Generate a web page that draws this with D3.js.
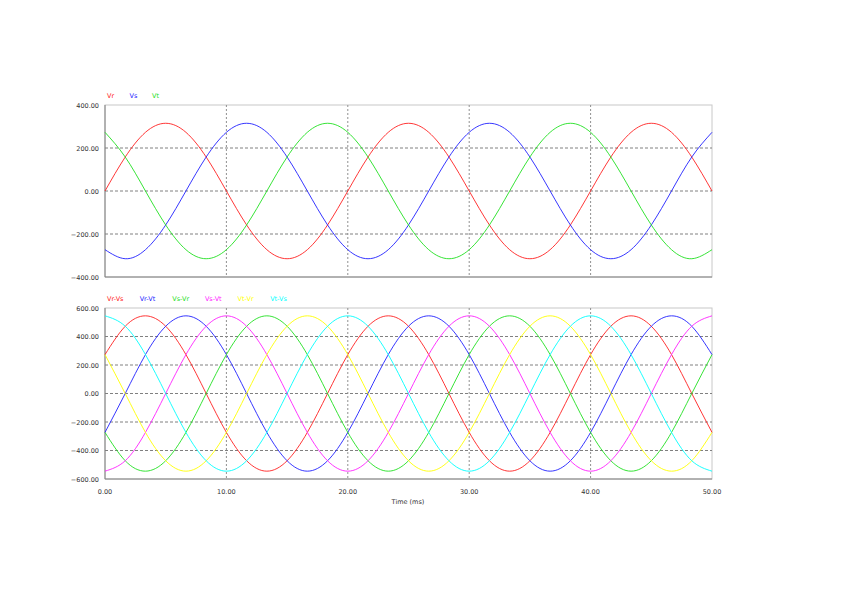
<!DOCTYPE html>
<html>
<head>
<meta charset="utf-8">
<script src="https://d3js.org/d3.v7.min.js"></script>
<style>body{margin:0;background:#fff}text{font-family:"DejaVu Sans",sans-serif}</style>
</head>
<body>
<script>
// time samples (ms), every 30 degrees of a 50 Hz cycle
const time = d3.range(31).map(k => k * 50 / 30);
const xTicks = [0, 10, 20, 30, 40, 50];
const topTicks = [-400, -200, 0, 200, 400];
const botTicks = [-600, -400, -200, 0, 200, 400, 600];

// phase voltages
const vr = [0,158,273,315,273,158,0,-158,-273,-315,-273,-158, 0,158,273,315,273,158,0,-158,-273,-315,-273,-158, 0,158,273,315,273,158,0];
const vs = [-273,-315,-273,-158,0,158,273,315,273,158,0,-158, -273,-315,-273,-158,0,158,273,315,273,158,0,-158, -273,-315,-273,-158,0,158,273];
const vt = [273,158,0,-158,-273,-315,-273,-158,0,158,273,315, 273,158,0,-158,-273,-315,-273,-158,0,158,273,315, 273,158,0,-158,-273,-315,-273];

// line voltages
const vrvs = [273,472,545,472,273,0,-273,-472,-545,-472,-273,0, 273,472,545,472,273,0,-273,-472,-545,-472,-273,0, 273,472,545,472,273,0,-273];
const vrvt = [-273,0,273,472,545,472,273,0,-273,-472,-545,-472, -273,0,273,472,545,472,273,0,-273,-472,-545,-472, -273,0,273,472,545,472,273];
const vsvr = [-273,-472,-545,-472,-273,0,273,472,545,472,273,0, -273,-472,-545,-472,-273,0,273,472,545,472,273,0, -273,-472,-545,-472,-273,0,273];
const vsvt = [-545,-472,-273,0,273,472,545,472,273,0,-273,-472, -545,-472,-273,0,273,472,545,472,273,0,-273,-472, -545,-472,-273,0,273,472,545];
const vtvr = [273,0,-273,-472,-545,-472,-273,0,273,472,545,472, 273,0,-273,-472,-545,-472,-273,0,273,472,545,472, 273,0,-273,-472,-545,-472,-273];
const vtvs = [545,472,273,0,-273,-472,-545,-472,-273,0,273,472, 545,472,273,0,-273,-472,-545,-472,-273,0,273,472, 545,472,273,0,-273,-472,-545];

const topNames = ["Vr", "Vs", "Vt"];
const botNames = ["Vr-Vs", "Vr-Vt", "Vs-Vr", "Vs-Vt", "Vt-Vr", "Vt-Vs"];
const topColors = ["#ff2020", "#2020ff", "#20e020"];
const botColors = ["#ff2020", "#2020ff", "#20e020", "#ff20ff", "#ffff00", "#00ffff"];

const svg = d3.select("body").append("svg").attr("width", 848).attr("height", 599);
const x = d3.scaleLinear().domain([0, 50]).range([105, 712]);

function panel(y0, y1, dom, ticks, series, names, colors, showX) {
  const y = d3.scaleLinear().domain(dom).range([y1, y0]);
  const g = svg.append("g");
  g.append("rect").attr("x", 105).attr("y", y0).attr("width", 607).attr("height", y1 - y0)
    .attr("fill", "none").attr("stroke", "#c8c8c8");
  ticks.slice(1, -1).forEach(t => g.append("line").attr("x1", 105).attr("x2", 712)
    .attr("y1", y(t)).attr("y2", y(t)).attr("stroke", "#808080").attr("stroke-dasharray", "3,2"));
  xTicks.slice(1, -1).forEach(t => g.append("line").attr("x1", x(t)).attr("x2", x(t))
    .attr("y1", y0).attr("y2", y1).attr("stroke", "#909090").attr("stroke-dasharray", "2,2"));
  g.append("line").attr("x1", 105).attr("x2", 105).attr("y1", y0).attr("y2", y1).attr("stroke", "#808080");
  g.append("line").attr("x1", 105).attr("x2", 712).attr("y1", y1).attr("y2", y1).attr("stroke", "#808080");
  ticks.forEach(t => g.append("text").attr("x", 99).attr("y", y(t) + 2.5).attr("text-anchor", "end")
    .attr("font-size", 6.5).attr("fill", "#333").text(d3.format(".2f")(t)));
  const line = d3.line().x((d, i) => x(time[i])).y(d => y(d)).curve(d3.curveNatural);
  series.forEach((s, i) => g.append("path").attr("d", line(s)).attr("fill", "none")
    .attr("stroke", colors[i]).attr("stroke-width", 0.9));
  names.forEach((n, i) => g.append("text").attr("x", 107 + i * 22.5 * (names.length > 3 ? 1.45 : 1))
    .attr("y", y0 - 7).attr("font-size", 6.5).attr("fill", colors[i]).text(n));
  if (showX) {
    xTicks.forEach(t => g.append("text").attr("x", x(t)).attr("y", y1 + 15).attr("text-anchor", "middle")
      .attr("font-size", 6.5).attr("fill", "#333").text(d3.format(".2f")(t)));
    g.append("text").attr("x", 408).attr("y", y1 + 25).attr("text-anchor", "middle")
      .attr("font-size", 6.5).attr("fill", "#333").text("Time (ms)");
  }
}

panel(105, 277, [-400, 400], topTicks, [vr, vs, vt], topNames, topColors, false);
panel(308, 479, [-600, 600], botTicks, [vrvs, vrvt, vsvr, vsvt, vtvr, vtvs], botNames, botColors, true);
</script>
</body>
</html>
